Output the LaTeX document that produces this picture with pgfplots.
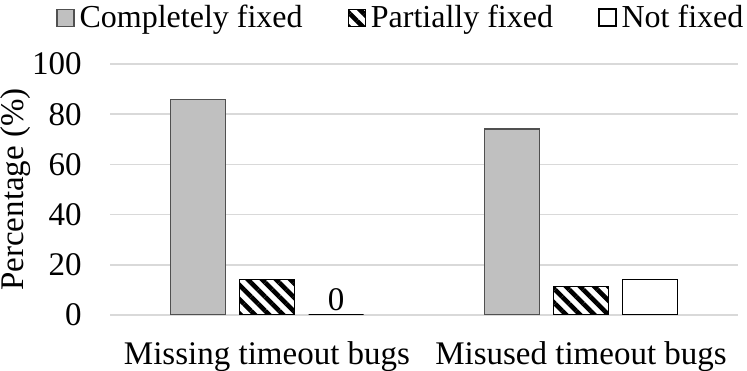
\documentclass[border=0pt]{standalone}
\usepackage{fontspec}
\setmainfont{Liberation Serif}
\usepackage{pgfplots}
\pgfplotsset{compat=1.18}
\usetikzlibrary{patterns.meta}

\definecolor{barGray}{HTML}{C0C0C0}
\definecolor{edgeGray}{HTML}{505050}
\definecolor{gridGray}{HTML}{D9D9D9}

\begin{document}
\fontsize{16.5bp}{19bp}\selectfont
\begin{tikzpicture}
\useasboundingbox (0,0) rectangle (373.5bp,185.5bp);
\begin{axis}[
    at={(55bp,28bp)}, anchor=south west,
    scale only axis,
    width=314bp, height=125.5bp,
    ybar=7bp, bar width=27.5bp,
    xmin=-0.5, xmax=1.5,
    ymin=0, ymax=100,
    xtick={0,1},
    xticklabels={Missing timeout bugs, Misused timeout bugs},
    ytick={0,20,...,100},
    major tick length=0pt,
    axis line style={draw=none},
    ymajorgrids=true,
    grid style={gridGray, line width=0.8bp},
    /pgf/number format/assume math mode=true,
    xticklabel style={inner sep=0pt, anchor=north, yshift=-13bp},
    yticklabel style={inner sep=0pt, anchor=east, xshift=-14bp},
    ylabel={Percentage (\%)},
    ylabel style={inner sep=0pt},
    ylabel shift=0.5bp,
    legend columns=3,
    legend style={
        at={(-0.086,1.235)}, anchor=north west,
        draw=none, fill=none, inner sep=0pt,
        nodes={inner sep=0pt}, font=\fontsize{16bp}{19bp}\selectfont,
        /tikz/every odd column/.append style={column sep=2.5bp},
        /tikz/every even column/.append style={column sep=22.5bp},
    },
    legend image code/.code={
        \draw[#1] (0bp,-3.5bp) rectangle (8.5bp,5bp);
    },
]
\addplot[fill=barGray, draw=edgeGray, line width=0.6bp]
    coordinates {(0,85.7) (1,74.1)};
\addplot[pattern={Lines[angle=-45, distance=5bp, line width=2.3bp]}, draw=black, line width=0.6bp]
    coordinates {(0,14.3) (1,11.5)};
\addplot[fill=white, draw=black, line width=0.8bp,
    nodes near coords, point meta=explicit symbolic,
    every node near coord/.append style={black, inner sep=1.5bp}]
    coordinates {(0,0) [0] (1,14.2) []};
\legend{Completely fixed, Partially fixed, Not fixed}
\end{axis}
\end{tikzpicture}
\end{document}
